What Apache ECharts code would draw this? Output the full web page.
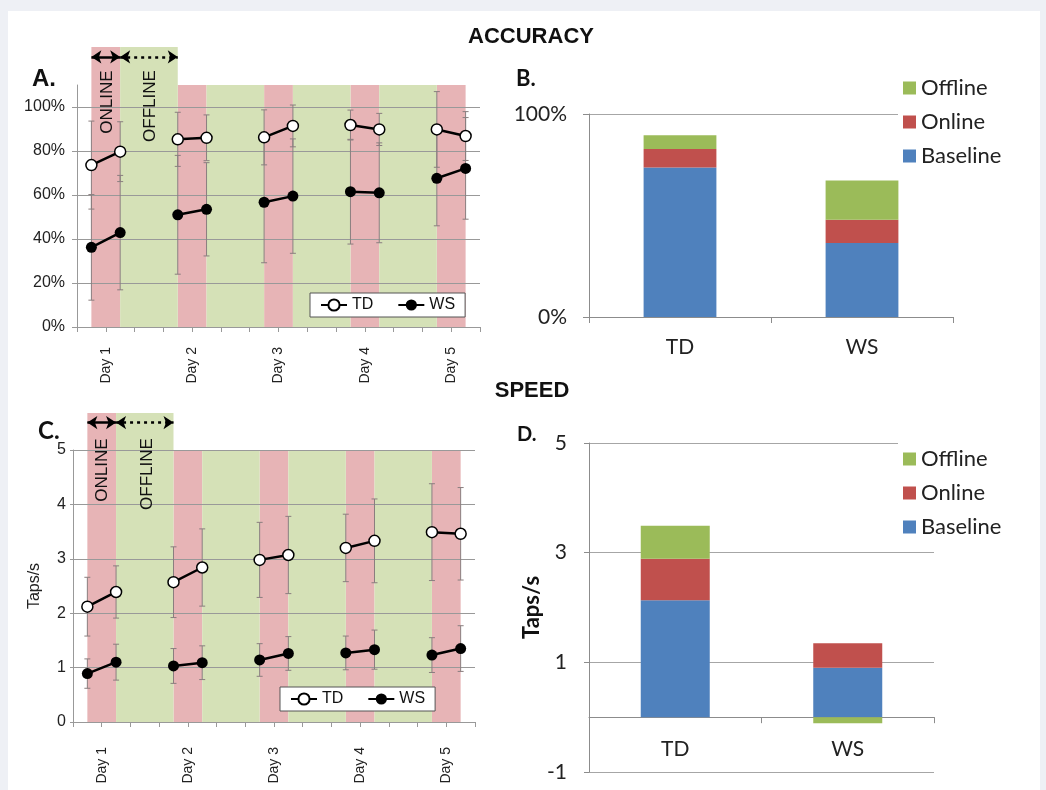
<!DOCTYPE html>
<html>
<head>
<meta charset="utf-8">
<script src="https://cdn.jsdelivr.net/npm/echarts@6/dist/echarts.min.js"></script>
<style>
  body { margin: 0; background: #eef0f5; }
  #paper { position: absolute; left: 8px; top: 11px; width: 1032px; height: 779px; background: #fff; }
  #chart { position: absolute; left: 0; top: 0; width: 1046px; height: 790px; }
</style>
</head>
<body>
<div id="paper"></div>
<div id="chart"></div>
<script>
// sessions: pre/post test of each day, gap = night between days
const sessions = ['D1 pre', 'D1 post', 'D1 gap', 'D2 pre', 'D2 post', 'D2 gap', 'D3 pre', 'D3 post',
    'D3 gap', 'D4 pre', 'D4 post', 'D4 gap', 'D5 pre', 'D5 post'];
const dayTicks = ['', 'Day 1', '', '', 'Day 2', '', '', 'Day 3', '', '', 'Day 4', '', '', 'Day 5', ''];

// accuracy (%)
const tdAcc    = [73.6, 79.7, null, 85.3, 86.0, null, 86.2, 91.4, null, 91.8, 89.8, null, 89.8, 86.8];
const tdAccErr = [20, 13.6, null, 12.3, 10.4, null, 12.5, 9.5, null, 6.8, 7.3, null, 17.2, 11.1];
const wsAcc    = [36.2, 42.9, null, 51.0, 53.5, null, 56.7, 59.5, null, 61.5, 61.0, null, 67.6, 72.1];
const wsAccErr = [24, 26, null, 27, 21.2, null, 27.5, 26, null, 23.8, 22.7, null, 21.6, 23.1];

// speed (taps/s)
const tdSpd    = [2.12, 2.39, null, 2.57, 2.84, null, 2.98, 3.07, null, 3.20, 3.33, null, 3.49, 3.46];
const tdSpdErr = [0.54, 0.48, null, 0.65, 0.71, null, 0.69, 0.71, null, 0.62, 0.77, null, 0.89, 0.85];
const wsSpd    = [0.89, 1.10, null, 1.03, 1.09, null, 1.14, 1.26, null, 1.27, 1.33, null, 1.23, 1.35];
const wsSpdErr = [0.27, 0.33, null, 0.32, 0.31, null, 0.30, 0.31, null, 0.31, 0.36, null, 0.32, 0.42];

// online = within a day, offline = between days (category index ranges)
const onlineBands  = [[0, 1], [3, 4], [6, 7], [9, 10], [12, 13]];
const offlineBands = [[1, 3], [4, 6], [7, 9], [10, 12]];

// stacked summary
const groups = ['TD', 'WS'];
const accBaseline = [73.6, 36.4];
const accOnline   = [9.2, 11.5];
const accOffline  = [6.7, 19.3];
const spdBaseline = [2.13, 0.90];
const spdOnline   = [0.76, 0.45];
const spdOffline  = [0.60, -0.11];

const PINK = '#e7b4b6';
const GREEN = '#d5e1b7';
const ARIAL = 'Liberation Sans';
const CALIBRI = 'Lato';

function errData(mean, err) {
    const out = [];
    mean.forEach((m, i) => {
        if (m != null) out.push([i, m - err[i], m + err[i]]);
    });
    return out;
}

function errorBar(params, api) {
    const x = api.value(0);
    const lo = api.coord([x, api.value(1)]);
    const hi = api.coord([x, api.value(2)]);
    const style = { stroke: '#8a7e7f', lineWidth: 1 };
    return {
        type: 'group',
        children: [
            { type: 'line', shape: { x1: lo[0], y1: lo[1], x2: hi[0], y2: hi[1] }, style: style },
            { type: 'line', shape: { x1: lo[0] - 3, y1: lo[1], x2: lo[0] + 3, y2: lo[1] }, style: style },
            { type: 'line', shape: { x1: hi[0] - 3, y1: hi[1], x2: hi[0] + 3, y2: hi[1] }, style: style }
        ]
    };
}

function bands(online, offline) {
    const out = [];
    online.forEach(b => out.push([{ xAxis: b[0], itemStyle: { color: PINK } }, { xAxis: b[1] }]));
    offline.forEach(b => out.push([{ xAxis: b[0], itemStyle: { color: GREEN } }, { xAxis: b[1] }]));
    return out;
}

function arrows() {
    return {
        silent: true,
        symbol: ['arrow', 'arrow'],
        symbolSize: [10, 10],
        label: { show: false },
        data: [
            [{ coord: [0, 0.74], lineStyle: { type: 'solid', color: '#000', width: 2.5 } }, { coord: [1, 0.74] }],
            [{ coord: [1, 0.74], lineStyle: { type: [3, 4], color: '#000', width: 2.5 } }, { coord: [3, 0.74] }]
        ]
    };
}

function sessionAxis(grid) {
    return {
        gridIndex: grid, type: 'category', data: sessions, boundaryGap: true, z: 1.5,
        axisLine: { lineStyle: { color: '#999' } },
        axisTick: { show: true, interval: 0, length: 5, lineStyle: { color: '#999' } },
        axisLabel: { show: false },
        splitLine: { show: false }
    };
}

function dayAxis(grid, margin) {
    return {
        gridIndex: grid, type: 'category', data: dayTicks, boundaryGap: false, position: 'bottom',
        axisLine: { show: false }, axisTick: { show: false }, splitLine: { show: false },
        axisLabel: { interval: 0, rotate: 90, fontSize: 14, margin: margin, color: '#222', fontFamily: ARIAL }
    };
}

function hiddenX(grid) {
    return { gridIndex: grid, type: 'category', data: sessions, show: false };
}

function hiddenY(grid) {
    return { gridIndex: grid, type: 'value', min: 0, max: 1, show: false };
}

function groupAxis(grid, showLabel) {
    return {
        gridIndex: grid, type: 'category', data: groups,
        axisLine: { lineStyle: { color: '#8c8c8c' } },
        axisTick: { show: true, length: 6, lineStyle: { color: '#8c8c8c' } },
        axisLabel: { show: showLabel, fontSize: 21, color: '#222', margin: 20, fontFamily: CALIBRI }
    };
}

// label-only axis for D, lifted up to the zero line
function groupLabelAxis(grid, offset) {
    return {
        gridIndex: grid, type: 'category', data: groups, position: 'bottom', offset: offset,
        axisLine: { show: false, onZero: false }, axisTick: { show: false }, splitLine: { show: false },
        axisLabel: { fontSize: 21, color: '#222', margin: 22, fontFamily: CALIBRI }
    };
}

function lineSeries(name, data, xi, yi, hollow, extra) {
    const s = {
        type: 'line', name: name, xAxisIndex: xi, yAxisIndex: yi, data: data, z: 3,
        symbol: 'circle', symbolSize: 11,
        lineStyle: { color: '#000', width: 2.5 },
        itemStyle: hollow ? { color: '#fff', borderColor: '#000', borderWidth: 1.5 } : { color: '#000' }
    };
    return Object.assign(s, extra || {});
}

function errSeries(name, mean, err, xi, yi) {
    return {
        type: 'custom', name: name, xAxisIndex: xi, yAxisIndex: yi, silent: true, z: 2,
        renderItem: errorBar, encode: { x: 0, y: [1, 2] }, data: errData(mean, err)
    };
}

function stackBars(stack, xi, yi, base, online, offline) {
    return [
        { type: 'bar', name: 'Baseline', stack: stack, xAxisIndex: xi, yAxisIndex: yi, data: base, barWidth: '40%', itemStyle: { color: '#4f81bd' } },
        { type: 'bar', name: 'Online', stack: stack, xAxisIndex: xi, yAxisIndex: yi, data: online, barWidth: '40%', itemStyle: { color: '#c0504d' } },
        { type: 'bar', name: 'Offline', stack: stack, xAxisIndex: xi, yAxisIndex: yi, data: offline, barWidth: '40%', itemStyle: { color: '#9bbb59' } }
    ];
}

function lineLegend(left, top) {
    return {
        data: ['TD', 'WS'], left: left, top: top, orient: 'horizontal',
        backgroundColor: '#fff', borderColor: '#555', borderWidth: 1, padding: [4, 10],
        itemWidth: 26, itemHeight: 14, itemGap: 24,
        textStyle: { fontSize: 16, color: '#111', fontFamily: ARIAL }
    };
}

function barLegend(left, top) {
    return {
        data: ['Offline', 'Online', 'Baseline'], left: left, top: top, orient: 'vertical',
        backgroundColor: '#fff', padding: [5, 6, 5, 5], icon: 'rect',
        itemWidth: 13, itemHeight: 13, itemGap: 12,
        textStyle: { fontSize: 22, color: '#222', fontFamily: CALIBRI }
    };
}

function label(text, x, y, font, rotate, align) {
    return {
        type: 'text', x: x, y: y, z: 100, rotation: rotate ? Math.PI / 2 : 0,
        style: { text: text, font: font, fill: '#111', align: align || 'center', verticalAlign: 'middle' }
    };
}

const chart = echarts.init(document.getElementById('chart'));
chart.setOption({
    animation: false,
    textStyle: { fontFamily: ARIAL },
    grid: [
        { left: 77, top: 85, width: 403, height: 242, outerBoundsMode: 'none' },
        { left: 77, top: 47, width: 403, height: 38, outerBoundsMode: 'none' },
        { left: 589, top: 114, width: 364, height: 203, outerBoundsMode: 'none' },
        { left: 73, top: 450, width: 402, height: 272, outerBoundsMode: 'none' },
        { left: 73, top: 413, width: 402, height: 37, outerBoundsMode: 'none' },
        { left: 589, top: 443, width: 345, height: 329, outerBoundsMode: 'none' }
    ],
    xAxis: [
        sessionAxis(0), dayAxis(0, 20), hiddenX(1), groupAxis(2, true),
        sessionAxis(3), dayAxis(3, 25), hiddenX(4), groupAxis(5, false),
        groupLabelAxis(5, -54.8)
    ],
    yAxis: [
        {
            gridIndex: 0, type: 'value', min: 0, max: 110, interval: 20, z: 1.5,
            axisLine: { show: true, lineStyle: { color: '#999' } },
            axisTick: { show: true, length: 5, lineStyle: { color: '#999' } },
            axisLabel: { formatter: '{value}%', fontSize: 16, color: '#222', margin: 12, showMaxLabel: false },
            splitLine: { show: true, showMaxLine: false, lineStyle: { color: '#999' } }
        },
        hiddenY(1),
        {
            gridIndex: 2, type: 'value', min: 0, max: 100, interval: 100,
            axisLine: { show: true, lineStyle: { color: '#8c8c8c' } },
            axisTick: { show: true, length: 6, lineStyle: { color: '#8c8c8c' } },
            axisLabel: { formatter: '{value}%', fontSize: 21, color: '#222', margin: 22, fontFamily: CALIBRI },
            splitLine: { show: true, lineStyle: { color: '#a6a6a6' } }
        },
        {
            gridIndex: 3, type: 'value', min: 0, max: 5, interval: 1, z: 1.5,
            name: 'Taps/s', nameLocation: 'middle', nameGap: 30,
            nameTextStyle: { fontSize: 16, color: '#222' },
            axisLine: { show: true, lineStyle: { color: '#999' } },
            axisTick: { show: true, length: 3, lineStyle: { color: '#999' } },
            axisLabel: { fontSize: 16, color: '#222', margin: 7 },
            splitLine: { show: true, lineStyle: { color: '#999' } }
        },
        hiddenY(4),
        {
            gridIndex: 5, type: 'value', min: -1, max: 5, interval: 2,
            name: 'Taps/s', nameLocation: 'middle', nameGap: 34,
            nameTextStyle: { fontSize: 22, fontWeight: 'bold', color: '#111', fontFamily: CALIBRI },
            axisLine: { show: true, lineStyle: { color: '#8c8c8c' } },
            axisTick: { show: true, length: 5, lineStyle: { color: '#8c8c8c' } },
            axisLabel: { fontSize: 21, color: '#222', margin: 22, fontFamily: CALIBRI },
            splitLine: { show: true, lineStyle: { color: '#a6a6a6' } }
        }
    ],
    legend: [
        lineLegend(310, 293),
        barLegend(898, 72),
        lineLegend(280, 687),
        barLegend(898, 443)
    ],
    series: [
        // A: accuracy by session
        errSeries('TD acc err', tdAcc, tdAccErr, 0, 0),
        errSeries('WS acc err', wsAcc, wsAccErr, 0, 0),
        lineSeries('TD', tdAcc, 0, 0, true, { markArea: { silent: true, data: bands(onlineBands, offlineBands) } }),
        lineSeries('WS', wsAcc, 0, 0, false),
        {
            type: 'line', name: 'A phases', xAxisIndex: 2, yAxisIndex: 1, data: [],
            markArea: { silent: true, data: bands([onlineBands[0]], [offlineBands[0]]) },
            markLine: arrows()
        },
        // B: accuracy gains
        ...stackBars('acc', 3, 2, accBaseline, accOnline, accOffline),
        // C: speed by session
        errSeries('TD spd err', tdSpd, tdSpdErr, 4, 3),
        errSeries('WS spd err', wsSpd, wsSpdErr, 4, 3),
        lineSeries('TD', tdSpd, 4, 3, true, { markArea: { silent: true, data: bands(onlineBands, offlineBands) } }),
        lineSeries('WS', wsSpd, 4, 3, false),
        {
            type: 'line', name: 'C phases', xAxisIndex: 6, yAxisIndex: 4, data: [],
            markArea: { silent: true, data: bands([onlineBands[0]], [offlineBands[0]]) },
            markLine: arrows()
        },
        // D: speed gains
        ...stackBars('spd', 7, 5, spdBaseline, spdOnline, spdOffline)
    ],
    graphic: [
        label('ACCURACY', 531, 37, 'bold 22px "Liberation Sans"'),
        label('SPEED', 532, 391, 'bold 22px "Liberation Sans"'),
        label('A.', 32, 79, 'bold 24px "Liberation Sans"', false, 'left'),
        label('B.', 516, 79, 'bold 22px Lato', false, 'left'),
        label('C.', 38, 431, 'bold 24px Lato', false, 'left'),
        label('D.', 517, 435, 'bold 20px Lato', false, 'left'),
        label('ONLINE', 107, 102, '17px "Liberation Sans"', true),
        label('OFFLINE', 150, 106, '17px "Liberation Sans"', true),
        label('ONLINE', 102, 470, '17px "Liberation Sans"', true),
        label('OFFLINE', 147, 474, '17px "Liberation Sans"', true)
    ]
});
</script>
</body>
</html>
